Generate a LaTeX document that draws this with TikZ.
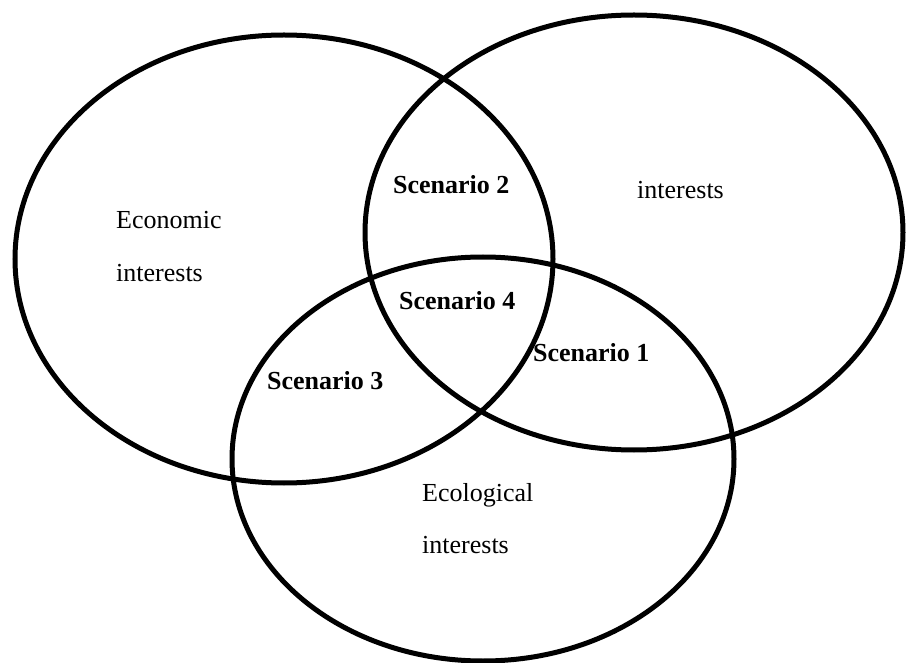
\documentclass[tikz,border=0pt]{standalone}
\usepackage{fontspec}
\setmainfont{Liberation Serif}
\begin{document}
\begin{tikzpicture}[x=1pt,y=-1pt,
  ring/.style={draw=black,line width=5pt},
  lbl/.style={anchor=base west,inner sep=0pt,font=\fontsize{26}{30}\selectfont},
  blbl/.style={lbl,font=\fontsize{26}{30}\selectfont\bfseries}]
\useasboundingbox[fill=white] (0,0) rectangle (906,663);
\draw[ring] (284,259) ellipse [x radius=269, y radius=224];
\draw[ring] (634,232.5) ellipse [x radius=269, y radius=217.5];
\draw[ring] (483,459) ellipse [x radius=251, y radius=202];
\node[lbl] (eco1) at (116,229) {Economic};
\node[lbl] (eco2) at (116,282) {interests};
\node[lbl] (soc) at (637,199) {interests};
\node[lbl] (ecl1) at (422,501) {Ecological};
\node[lbl] (ecl2) at (422,553) {interests};
\node[blbl] (s2) at (393,194) {Scenario 2};
\node[blbl] (s4) at (399,310) {Scenario 4};
\node[blbl] (s1) at (533,362) {Scenario 1};
\node[blbl] (s3) at (267,389) {Scenario 3};
\end{tikzpicture}
\end{document}
